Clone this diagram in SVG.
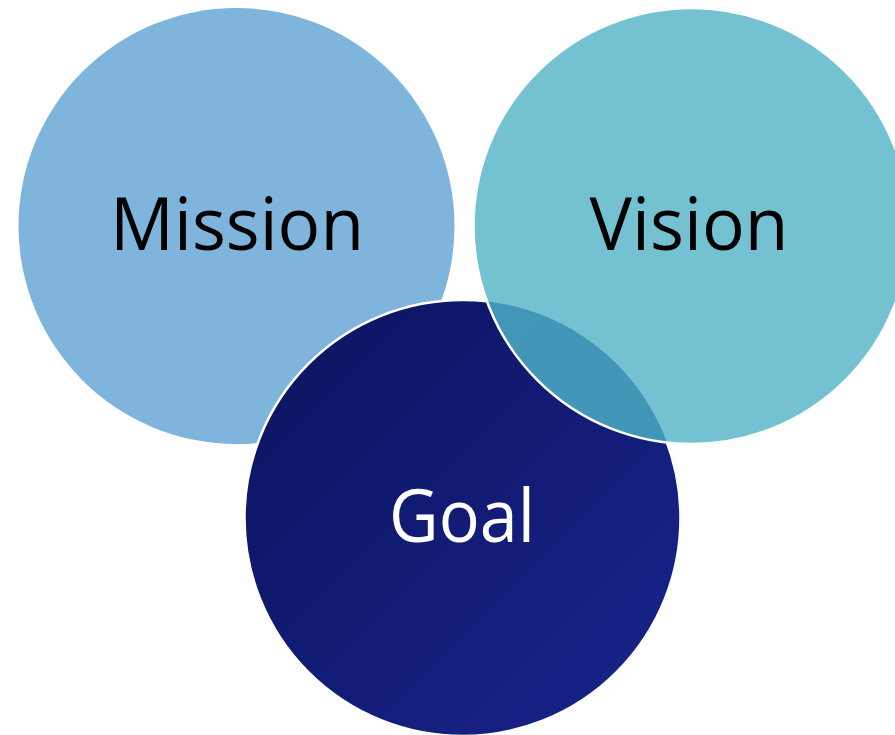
<svg xmlns="http://www.w3.org/2000/svg" width="895" height="735" viewBox="0 0 895 735">
<style>
.lbl{font-family:"Open Sans","Noto Sans","Liberation Sans",sans-serif;font-size:74px;text-anchor:middle}
</style>
<defs>
<linearGradient id="goalGrad" x1="0" y1="0" x2="1" y2="1">
<stop offset="0" stop-color="#0C135E"/>
<stop offset="1" stop-color="#18248C"/>
</linearGradient>
<linearGradient id="lensGrad" x1="0" y1="0" x2="1" y2="1">
<stop offset="0" stop-color="#4499BA"/>
<stop offset="1" stop-color="#4094B6"/>
</linearGradient>
<clipPath id="visionClip"><circle cx="691.5" cy="226" r="218"/></clipPath>
</defs>
<rect width="895" height="735" fill="#FFFFFF"/>
<g id="mission">
<circle cx="236.5" cy="226" r="218" fill="#7FB5DD"/>
<text class="lbl" x="237" y="250" fill="#000000" textLength="254" lengthAdjust="spacingAndGlyphs">Mission</text>
</g>
<g id="goal">
<circle cx="462.5" cy="518" r="218" fill="url(#goalGrad)" stroke="#FFFFFF" stroke-width="2.5"/>
</g>
<g id="vision">
<circle cx="691.5" cy="226" r="218" fill="#74C2D1"/>
<circle cx="462.5" cy="518" r="218" fill="url(#lensGrad)" clip-path="url(#visionClip)"/>
<circle cx="691.5" cy="226" r="218" fill="none" stroke="#FFFFFF" stroke-width="2.5"/>
<text class="lbl" x="689" y="250" fill="#000000" textLength="199" lengthAdjust="spacingAndGlyphs">Vision</text>
</g>
<g id="goal-label">
<text class="lbl" x="462" y="542" fill="#FFFFFF" textLength="146" lengthAdjust="spacingAndGlyphs">Goal</text>
</g>
<g id="connectors"/>
</svg>
